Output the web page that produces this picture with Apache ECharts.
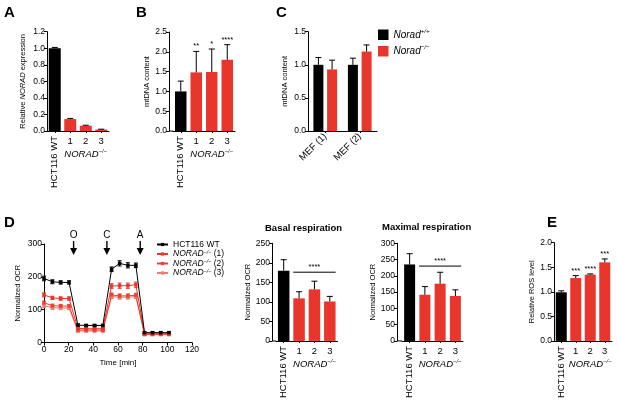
<!DOCTYPE html>
<html>
<head>
<meta charset="utf-8">
<script src="https://cdn.jsdelivr.net/npm/echarts@6/dist/echarts.min.js"></script>
<style>
  body { margin: 0; background: #fff; }
  #show { width: 617px; height: 401px; }
</style>
</head>
<body>
<div id="show"></div>
<script>
// ---- Daten ----
var kat = ['HCT116 WT', '1', '2', '3'];
// A: relative NORAD expression
var exprA = [1.0, 0.144, 0.064, 0.018];
var exprAerr = [0.01, 0.008, 0.006, 0.004];
// B: mtDNA content
var mtB = [1.0, 1.48, 1.49, 1.8];
var mtBerr = [0.26, 0.53, 0.58, 0.38];
var sterneB = ['', '**', '*', '****'];
// C: MEF mtDNA content
var katC = ['MEF (1)', 'MEF (2)'];
var mtCwt = [1.0, 1.0];
var mtCwtErr = [0.11, 0.1];
var mtCko = [0.93, 1.2];
var mtCkoErr = [0.14, 0.1];
// D: OCR time course
var zeit = [0, 6.8, 13.5, 20.3, 27.5, 34.2, 41, 47.7, 54.8, 61.3, 68, 74.5, 81.5, 88, 94.7, 101.3];
var ocrWT = [195, 185, 183, 183, 53, 52, 52, 52, 223, 241, 235, 235, 30, 30, 30, 30];
var ocrWTerr = [7, 6, 5, 5, 4, 3, 3, 3, 7, 8, 8, 7, 3, 3, 3, 3];
var ocrK1 = [145, 136, 134, 134, 43, 42, 42, 42, 172, 173, 173, 176, 28, 28, 28, 28];
var ocrK1err = [6, 5, 5, 5, 3, 3, 3, 3, 7, 8, 8, 8, 3, 3, 3, 3];
var ocrK2 = [121, 112, 111, 111, 38, 38, 38, 38, 145, 142, 142, 144, 25, 25, 25, 25];
var ocrK2err = [5, 5, 5, 5, 3, 3, 3, 3, 6, 6, 6, 6, 3, 3, 3, 3];
var ocrK3 = [112, 106, 105, 105, 35, 35, 35, 35, 140, 138, 138, 140, 24, 24, 24, 24];
var ocrK3err = [5, 5, 5, 5, 3, 3, 3, 3, 6, 6, 6, 6, 3, 3, 3, 3];
var injZeit = [24, 51, 78];
var injName = ['O', 'C', 'A'];
// basal / maximal respiration
var basal = [180, 109, 132, 101];
var basalErr = [28, 17, 21, 13];
var basalSig = 176;
var maximal = [235, 142, 176, 138];
var maximalErr = [33, 25, 35, 19];
var maximalSig = 230;
// E: ROS
var ros = [0.99, 1.28, 1.35, 1.6];
var rosErr = [0.03, 0.05, 0.015, 0.07];
var sterneE = ['', '***', '****', '***'];

var schrift = '"Liberation Sans", Arial, Helvetica, sans-serif';
var rot = '#e8362c';
var schwarz = '#000000';
var myChart = echarts.init(document.getElementById('show'));

var grids = [], xAxes = [], yAxes = [], serien = [];

function hochRich(fs, lh) {
    lh = lh || fs * 1.35;
    return {
        n: {fontStyle: 'italic', fontSize: fs, fontFamily: schrift, color: '#000', lineHeight: lh},
        s: {fontStyle: 'italic', fontSize: fs * 0.62, fontFamily: schrift, color: '#000', verticalAlign: 'top', lineHeight: fs * 0.75}
    };
}

function txt(t, x, y, fs, al, va) {
    return {type: 'text', x: x, y: y, style: {text: t, font: fs + 'px ' + schrift, fill: '#000', textFill: '#000',
        align: al, textAlign: al, verticalAlign: va, textVerticalAlign: va}};
}

function yAchse(gi, min, max, iv, dez, name, gap, off, rich) {
    yAxes.push({
        gridIndex: gi, type: 'value', min: min, max: max, interval: iv, offset: off || 0,
        name: name, nameLocation: 'middle', nameGap: gap, nameRotate: 90,
        nameTextStyle: {fontSize: 7.5, fontFamily: schrift, color: '#000', rich: rich || {}},
        axisLine: {show: true, lineStyle: {color: '#000', width: 1}},
        axisTick: {show: true, length: 3, lineStyle: {color: '#000'}},
        axisLabel: {fontSize: 8.5, fontFamily: schrift, color: '#000', margin: 2,
            formatter: function (v) { return v.toFixed(dez); }},
        splitLine: {show: false}
    });
    return yAxes.length - 1;
}

function xAchsen(gi, ext) {
    xAxes.push({
        gridIndex: gi, type: 'category', data: kat, position: 'bottom',
        axisLine: {show: true, lineStyle: {color: '#000', width: 1},
            symbol: ext ? ['rect', 'none'] : 'none', symbolSize: [1, ext || 1], symbolOffset: [-(ext || 0) / 2, 0]},
        axisTick: {show: true, alignWithLabel: true, length: 2, lineStyle: {color: '#000'}},
        axisLabel: {interval: 0, fontSize: 9.5, fontFamily: schrift, color: '#000', margin: 4, lineHeight: 13,
            formatter: function (v, i) {
                if (i == 0) return '';
                if (i == 2) return v + '\n{n|NORAD}{s|−/−}';
                return v;
            },
            rich: hochRich(9.5)}
    });
    var xi = xAxes.length - 1;
    xAxes.push({
        gridIndex: gi, type: 'category', data: kat, position: 'bottom',
        axisLine: {show: false}, axisTick: {show: false},
        axisLabel: {interval: 0, rotate: 90, fontSize: 9.5, fontFamily: schrift, color: '#000', margin: 5,
            formatter: function (v, i) { return i == 0 ? v : ''; }}
    });
    return xi;
}

function fehlerSerie(xi, yi, vals, errs, sterne, shift) {
    var d = [];
    for (var i = 0; i < vals.length; i++) d.push([i, vals[i], vals[i] + errs[i]]);
    return {
        type: 'custom', xAxisIndex: xi, yAxisIndex: yi, z: 5, clip: false, data: d,
        renderItem: function (params, api) {
            var u = api.coord([api.value(0), api.value(1)]);
            var o = api.coord([api.value(0), api.value(2)]);
            var x = u[0] + (shift || 0);
            var kinder = [
                {type: 'line', shape: {x1: x, y1: u[1], x2: x, y2: o[1]}, style: {stroke: '#000', lineWidth: 1}},
                {type: 'line', shape: {x1: x - 3, y1: o[1], x2: x + 3, y2: o[1]}, style: {stroke: '#000', lineWidth: 1}}
            ];
            var s = sterne ? sterne[params.dataIndex] : '';
            if (s) kinder.push(txt(s, x, o[1] - 1, 7.5, 'center', 'bottom'));
            return {type: 'group', children: kinder};
        }
    };
}

function sigSerie(xi, yi, yv) {
    return {
        type: 'custom', xAxisIndex: xi, yAxisIndex: yi, z: 5, clip: false, data: [[1, 3, yv]],
        renderItem: function (params, api) {
            var a = api.coord([api.value(0), api.value(2)]);
            var b = api.coord([api.value(1), api.value(2)]);
            var hb = api.size([1, 0])[0] * 0.38;
            return {type: 'group', children: [
                {type: 'line', shape: {x1: a[0] - hb, y1: a[1], x2: b[0] + hb, y2: b[1]}, style: {stroke: '#000', lineWidth: 1}},
                txt('****', (a[0] + b[0]) / 2, a[1] - 1, 7.5, 'center', 'bottom')
            ]};
        }
    };
}

function balkenPanel(g, vals, errs, sterne, min, max, iv, dez, name, gap, off, bw, rich) {
    var gi = grids.length;
    grids.push({left: g[0], top: g[1], width: g[2], height: g[3]});
    var xi = xAchsen(gi, off);
    var yi = yAchse(gi, min, max, iv, dez, name, gap, off, rich);
    serien.push({
        type: 'bar', xAxisIndex: xi, yAxisIndex: yi, data: vals, barWidth: bw,
        itemStyle: {color: function (p) { return p.dataIndex == 0 ? schwarz : rot; }}
    });
    serien.push(fehlerSerie(xi, yi, vals, errs, sterne, 0));
    return [xi, yi];
}

// A
balkenPanel([47, 31.7, 62, 99.3], exprA, exprAerr, null, 0, 1.2, 0.2, 1,
    'Relative {i|NORAD} expression', 20, 0, 12, {i: {fontStyle: 'italic', fontSize: 7.5, fontFamily: schrift}});
// B
balkenPanel([173, 32, 62, 99], mtB, mtBerr, sterneB, 0, 2.5, 0.5, 1, 'mtDNA content', 18, 4, 11.5);

// C
(function () {
    var gi = grids.length;
    grids.push({left: 308, top: 31.7, width: 69, height: 99.3});
    xAxes.push({
        gridIndex: gi, type: 'category', data: katC,
        axisLine: {show: true, lineStyle: {color: '#000', width: 1}},
        axisTick: {show: true, alignWithLabel: true, length: 2, lineStyle: {color: '#000'}},
        axisLabel: {interval: 0, rotate: 45, fontSize: 9.5, fontFamily: schrift, color: '#000', margin: 4}
    });
    var xi = xAxes.length - 1;
    var yi = yAchse(gi, 0, 1.5, 0.5, 1, 'mtDNA content', 19, 0);
    serien.push({type: 'bar', name: 'Norad+/+', xAxisIndex: xi, yAxisIndex: yi, data: mtCwt, barWidth: 10, barGap: '37%', itemStyle: {color: schwarz}});
    serien.push({type: 'bar', name: 'Norad−/−', xAxisIndex: xi, yAxisIndex: yi, data: mtCko, barWidth: 10, barGap: '37%', itemStyle: {color: rot}});
    serien.push(fehlerSerie(xi, yi, mtCwt, mtCwtErr, null, -6.85));
    serien.push(fehlerSerie(xi, yi, mtCko, mtCkoErr, null, 6.85));
})();

// D Zeitverlauf
(function () {
    var gi = grids.length;
    grids.push({left: 44, top: 244, width: 148, height: 98.5});
    xAxes.push({
        gridIndex: gi, type: 'value', min: 0, max: 120, interval: 20,
        name: 'Time [min]', nameLocation: 'middle', nameGap: 16,
        nameTextStyle: {fontSize: 8, fontFamily: schrift, color: '#000'},
        axisLine: {show: true, lineStyle: {color: '#000', width: 1}},
        axisTick: {show: true, length: 3, lineStyle: {color: '#000'}},
        axisLabel: {fontSize: 8.5, fontFamily: schrift, color: '#000', margin: 3},
        splitLine: {show: false}
    });
    var xi = xAxes.length - 1;
    var yi = yAchse(gi, 0, 300, 100, 0, 'Normalized OCR', 22, 0);
    var linien = [
        ['NORAD−/− (3)', ocrK3, ocrK3err, '#f07a6e'],
        ['NORAD−/− (2)', ocrK2, ocrK2err, '#ea4034'],
        ['NORAD−/− (1)', ocrK1, ocrK1err, rot],
        ['HCT116 WT', ocrWT, ocrWTerr, schwarz]
    ];
    linien.forEach(function (l) {
        var pts = [], ebs = [];
        for (var i = 0; i < zeit.length; i++) {
            pts.push([zeit[i], l[1][i]]);
            ebs.push([zeit[i], l[1][i] - l[2][i], l[1][i] + l[2][i]]);
        }
        serien.push({
            type: 'custom', xAxisIndex: xi, yAxisIndex: yi, data: ebs, z: 3,
            renderItem: (function (farbe) {
                return function (params, api) {
                    var a = api.coord([api.value(0), api.value(1)]);
                    var b = api.coord([api.value(0), api.value(2)]);
                    return {type: 'group', children: [
                        {type: 'line', shape: {x1: a[0], y1: a[1], x2: b[0], y2: b[1]}, style: {stroke: farbe, lineWidth: 1}},
                        {type: 'line', shape: {x1: a[0] - 2, y1: a[1], x2: a[0] + 2, y2: a[1]}, style: {stroke: farbe, lineWidth: 1}},
                        {type: 'line', shape: {x1: b[0] - 2, y1: b[1], x2: b[0] + 2, y2: b[1]}, style: {stroke: farbe, lineWidth: 1}}
                    ]};
                };
            })(l[3])
        });
        serien.push({
            type: 'line', name: l[0], xAxisIndex: xi, yAxisIndex: yi, data: pts, z: 4,
            symbol: 'rect', symbolSize: 3.5, showSymbol: true,
            lineStyle: {color: l[3], width: 1}, itemStyle: {color: l[3]}
        });
    });
    var pfeile = [];
    for (var i = 0; i < injZeit.length; i++) pfeile.push([injZeit[i], 300]);
    serien.push({
        type: 'custom', xAxisIndex: xi, yAxisIndex: yi, data: pfeile, clip: false, z: 6,
        renderItem: function (params, api) {
            var p = api.coord([api.value(0), api.value(1)]);
            var x = p[0], y = p[1];
            return {type: 'group', children: [
                txt(injName[params.dataIndex], x, y - 9, 10, 'center', 'middle'),
                {type: 'line', shape: {x1: x, y1: y - 3, x2: x, y2: y + 5}, style: {stroke: '#000', lineWidth: 1.4}},
                {type: 'polygon', shape: {points: [[x - 3.5, y + 4], [x + 3.5, y + 4], [x, y + 11]]}, style: {fill: '#000'}}
            ]};
        }
    });
})();

// Basal
var bp = balkenPanel([276, 243.3, 61.5, 99], basal, basalErr, null, 0, 250, 50, 0, 'Normalized OCR', 18, 4, 11.5);
serien.push(sigSerie(bp[0], bp[1], basalSig));
// Maximal
var mp = balkenPanel([402, 243.3, 61, 99.4], maximal, maximalErr, null, 0, 300, 50, 0, 'Normalized OCR', 19, 5, 11);
serien.push(sigSerie(mp[0], mp[1], maximalSig));
// E
balkenPanel([554, 242.7, 58, 100], ros, rosErr, sterneE, 0, 2.0, 0.5, 1, 'Relative ROS level', 17, 0, 11);

function buchstabe(t, l, o) {
    return {text: t, left: l, top: o, padding: 0, textStyle: {fontSize: 15, fontWeight: 'bold', fontFamily: schrift, color: '#000'}};
}
function untertitel(t, l, o) {
    return {text: t, left: l, top: o, padding: 0, textStyle: {fontSize: 9.5, fontWeight: 'bold', fontFamily: schrift, color: '#000'}};
}

var option = {
    animation: false,
    backgroundColor: '#fff',
    title: [
        buchstabe('A', 4, 5), buchstabe('B', 136, 5), buchstabe('C', 276, 5),
        buchstabe('D', 4, 215), buchstabe('E', 547, 215),
        untertitel('Basal respiration', 265, 223), untertitel('Maximal respiration', 382, 222)
    ],
    legend: [
        {
            data: ['Norad+/+', 'Norad−/−'], orient: 'vertical', left: 378, top: 28,
            icon: 'rect', itemWidth: 10.5, itemHeight: 10.5, itemGap: 4.5, padding: 0,
            textStyle: {fontSize: 10, fontFamily: schrift, color: '#000', rich: hochRich(10)},
            formatter: function (n) { return '{n|Norad}{s|' + n.slice(5) + '}'; }
        },
        {
            data: ['HCT116 WT', 'NORAD−/− (1)', 'NORAD−/− (2)', 'NORAD−/− (3)'], orient: 'vertical', left: 156, top: 240,
            itemWidth: 11, itemHeight: 4, itemGap: 0.5, padding: 0,
            textStyle: {fontSize: 8.5, lineHeight: 8, fontFamily: schrift, color: '#000', rich: hochRich(8.5, 8)},
            formatter: function (n) {
                if (n.indexOf('NORAD') == 0) return '{n|NORAD}{s|−/−}' + n.slice(8);
                return n;
            }
        }
    ],
    grid: grids,
    xAxis: xAxes,
    yAxis: yAxes,
    series: serien
};
myChart.setOption(option);
</script>
</body>
</html>
